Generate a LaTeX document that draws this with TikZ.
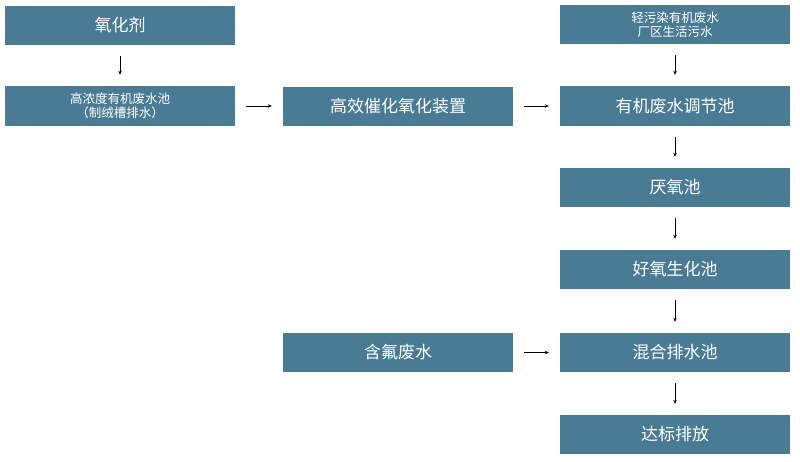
\documentclass[tikz,border=0pt]{standalone}
\usepackage{fontspec}
\setmainfont{Noto Sans CJK SC}
\usetikzlibrary{arrows.meta}
\definecolor{boxc}{HTML}{4A7B95}
\begin{document}
\begin{tikzpicture}[x=1pt,y=-1pt,
  bx/.style={fill=boxc,draw=none,minimum width=230pt,minimum height=39pt,text=white,inner sep=0pt,font=\fontsize{17}{19}\selectfont},
  sm/.style={font=\fontsize{12.5}{14}\selectfont,align=center},
  ar/.style={-{Stealth[length=4pt,width=3.5pt]},line width=0.6pt,shorten >=11pt,shorten <=11pt}]
\useasboundingbox (0,0) rectangle (800,461);
\node[bx] (a) at (120,25.5) {氧化剂};
\node[bx,sm,minimum height=40pt] (b) at (120,106) {高浓度有机废水池\\（制绒槽排水）};
\node[bx] (c) at (398,106) {高效催化氧化装置};
\node[bx,sm] (d) at (675,24.5) {轻污染有机废水\\厂区生活污水};
\node[bx,minimum height=40pt] (e) at (675,106) {有机废水调节池};
\node[bx] (f) at (675,187.5) {厌氧池};
\node[bx] (g) at (675,269.5) {好氧生化池};
\node[bx] (h) at (398,352.5) {含氟废水};
\node[bx] (i) at (675,352.5) {混合排水池};
\node[bx] (j) at (675,434.5) {达标排放};
\draw[ar] (a) -- (b);
\draw[ar] (b) -- (c);
\draw[ar] (c) -- (e);
\draw[ar] (d) -- (e);
\draw[ar] (e) -- (f);
\draw[ar] (f) -- (g);
\draw[ar] (g) -- (i);
\draw[ar] (h) -- (i);
\draw[ar] (i) -- (j);
\end{tikzpicture}
\end{document}
